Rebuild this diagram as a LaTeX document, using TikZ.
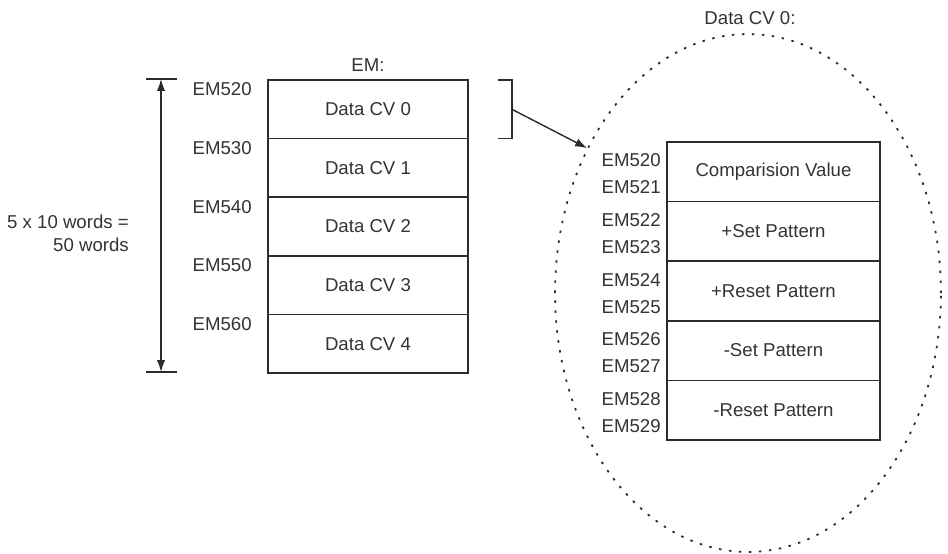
\documentclass[tikz,border=0pt]{standalone}
\usepackage{fontspec}
\setmainfont{Liberation Sans}
\usetikzlibrary{arrows.meta,positioning,shapes.geometric}
\definecolor{emLine}{HTML}{2B2B2B}
\definecolor{emText}{HTML}{333333}

\begin{document}
\begin{tikzpicture}[x=0.02cm, y=-0.02cm,
    font=\fontsize{10.6}{13.1}\selectfont,
    cell/.style={draw=emLine, line width=0.9pt, minimum width=#1, outer sep=0pt, text=emText},
    lcell/.style={cell=4cm, minimum height=1.172cm},
    rcell/.style={cell=4.26cm, minimum height=1.192cm},
    addr/.style={text=emText, inner sep=0pt, anchor=east},
    arr/.style={->, >={Latex[length=2.4mm,width=1.7mm]}, draw=emLine, line width=0.8pt}
]
\useasboundingbox (0,0) rectangle (948,554);

% zoomed word block
\node[ellipse, draw=emLine, line width=1pt, dash pattern=on 1.4pt off 4.3pt,
      minimum width=7.72cm, minimum height=10.36cm, inner sep=0pt] (zoomell) at (748,293) {};
\node[text=emText] (zoomtitle) at (750,18) {Data CV 0:};

% EM area
\node[text=emText] (emtitle) at (368,65) {EM:};
\node[lcell, anchor=north west] (cv0) at (268,80) {Data CV 0};
\node[lcell, below=0pt of cv0] (cv1) {Data CV 1};
\node[lcell, below=0pt of cv1] (cv2) {Data CV 2};
\node[lcell, below=0pt of cv2] (cv3) {Data CV 3};
\node[lcell, below=0pt of cv3] (cv4) {Data CV 4};

\node[addr, left=0.32cm of cv0.north west, yshift=-0.19cm] (em520) {EM520};
\node[addr, left=0.32cm of cv1.north west, yshift=-0.19cm] (em530) {EM530};
\node[addr, left=0.32cm of cv2.north west, yshift=-0.19cm] (em540) {EM540};
\node[addr, left=0.32cm of cv3.north west, yshift=-0.19cm] (em550) {EM550};
\node[addr, left=0.32cm of cv4.north west, yshift=-0.19cm] (em560) {EM560};

% size of the area
\coordinate (spanTop) at (161,79);
\coordinate (spanBot) at (161,372);
\draw[arr, <->] (spanTop) -- (spanBot);
\draw[emLine, line width=0.9pt] ([xshift=-0.3cm]spanTop) -- ([xshift=0.32cm]spanTop);
\draw[emLine, line width=0.9pt] ([xshift=-0.3cm]spanBot) -- ([xshift=0.32cm]spanBot);
\node[text=emText, align=right, anchor=east] (words) at (135,233) {5 x 10 words =\\50 words};

% bracket and pointer
\draw[emLine, line width=0.9pt] ([xshift=0.6cm]cv0.north east) -| ([xshift=0.88cm]cv0.south east)
    coordinate[pos=0.75] (brk) -- ([xshift=0.6cm]cv0.south east);
\draw[arr] (brk) -- (zoomell.138);

% Data CV 0 contents
\node[rcell, anchor=north west] (cmp) at (667,142) {Comparision Value};
\node[rcell, below=0pt of cmp] (pset) {+Set Pattern};
\node[rcell, below=0pt of pset] (preset) {+Reset Pattern};
\node[rcell, below=0pt of preset] (mset) {-Set Pattern};
\node[rcell, below=0pt of mset] (mreset) {-Reset Pattern};

\node[addr, left=0.12cm of cmp.north west, yshift=-0.37cm] (w520) {EM520};
\node[addr, left=0.12cm of cmp.north west, yshift=-0.91cm] (w521) {EM521};
\node[addr, left=0.12cm of pset.north west, yshift=-0.37cm] (w522) {EM522};
\node[addr, left=0.12cm of pset.north west, yshift=-0.91cm] (w523) {EM523};
\node[addr, left=0.12cm of preset.north west, yshift=-0.37cm] (w524) {EM524};
\node[addr, left=0.12cm of preset.north west, yshift=-0.91cm] (w525) {EM525};
\node[addr, left=0.12cm of mset.north west, yshift=-0.37cm] (w526) {EM526};
\node[addr, left=0.12cm of mset.north west, yshift=-0.91cm] (w527) {EM527};
\node[addr, left=0.12cm of mreset.north west, yshift=-0.37cm] (w528) {EM528};
\node[addr, left=0.12cm of mreset.north west, yshift=-0.91cm] (w529) {EM529};
\end{tikzpicture}
\end{document}
